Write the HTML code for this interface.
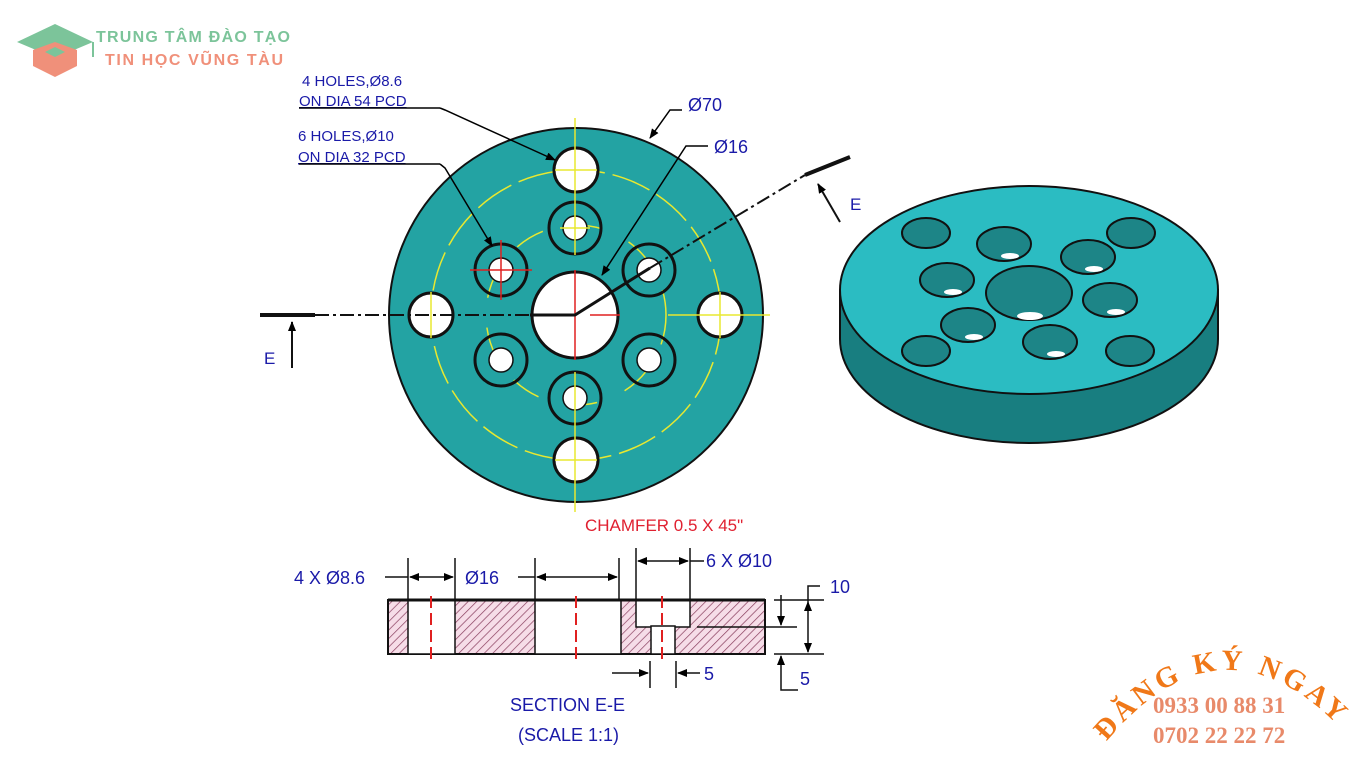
<!DOCTYPE html>
<html><head><meta charset="utf-8"><style>
html,body{margin:0;padding:0;background:#fff}
svg{display:block}
text{font-family:"Liberation Sans",sans-serif}
text.sf,.sf text{font-family:"Liberation Serif",serif}
</style></head><body>
<svg width="1366" height="768" viewBox="0 0 1366 768" xmlns="http://www.w3.org/2000/svg">
<defs>
<pattern id="h" width="6" height="6" patternUnits="userSpaceOnUse" patternTransform="rotate(45)">
<rect width="6" height="6" fill="#f6dde8"/><line x1="0" y1="0" x2="0" y2="6" stroke="#8a4060" stroke-width="1.4"/>
</pattern>
<marker id="a" markerWidth="10" markerHeight="8" refX="9" refY="4" orient="auto" markerUnits="userSpaceOnUse"><path d="M0,0 L10,4 L0,8z" fill="#000"/></marker>
</defs>
<rect width="1366" height="768" fill="#fff"/>

<!-- logo -->
<path d="M17,42 L55,24 L93,42 L55,58z" fill="#7cc49a"/>
<path d="M33,50 L55,42 L77,50 L77,66 L55,77 L33,66z" fill="#f0907a"/>
<path d="M45,52 L55,47 L65,52 L55,57z" fill="#7cc49a"/>
<line x1="93" y1="42" x2="93" y2="57" stroke="#7cc49a" stroke-width="2"/>
<text x="96" y="42" font-size="16" font-weight="bold" fill="#7cc49a" textLength="194">TRUNG TÂM ĐÀO TẠO</text>
<text x="105" y="65" font-size="16" font-weight="bold" fill="#f0907a" textLength="178">TIN HỌC VŨNG TÀU</text>

<!-- labels top -->
<g fill="#1a1aa8" font-size="15">
<text x="302" y="86">4 HOLES,Ø8.6</text>
<text x="299" y="106" text-decoration="underline">ON DIA 54 PCD</text>
<text x="298" y="141">6 HOLES,Ø10</text>
<text x="298" y="162" text-decoration="underline">ON DIA 32 PCD</text>
<text x="688" y="111" font-size="18">Ø70</text>
<text x="714" y="153" font-size="18">Ø16</text>
<text x="850" y="210" font-size="17">E</text>
<text x="264" y="364" font-size="17">E</text>
</g>

<!-- main disc -->
<circle cx="576" cy="315" r="187" fill="#23a3a3" stroke="#111" stroke-width="2"/>
<circle cx="576" cy="315" r="145" fill="none" stroke="#e8e830" stroke-width="1.5" stroke-dasharray="40,8"/>
<circle cx="576" cy="315" r="90" fill="none" stroke="#e8e830" stroke-width="1.5" stroke-dasharray="30,30"/>
<g stroke="#111" stroke-width="3" fill="#fff">
<circle cx="576" cy="170" r="22"/><circle cx="576" cy="460" r="22"/>
<circle cx="431" cy="315" r="22"/><circle cx="720" cy="315" r="22"/>
</g>
<g fill="none" stroke="#111" stroke-width="3">
<circle cx="575" cy="228" r="26"/><circle cx="575" cy="398" r="26"/>
<circle cx="501" cy="270" r="26"/><circle cx="649" cy="270" r="26"/>
<circle cx="501" cy="360" r="26"/><circle cx="649" cy="360" r="26"/>
</g>
<g fill="#fff" stroke="#111" stroke-width="1.5">
<circle cx="575" cy="228" r="12"/><circle cx="575" cy="398" r="12"/>
<circle cx="501" cy="270" r="12"/><circle cx="649" cy="270" r="12"/>
<circle cx="501" cy="360" r="12"/><circle cx="649" cy="360" r="12"/>
</g>
<circle cx="575" cy="315" r="43" fill="#fff" stroke="#111" stroke-width="3"/>
<g stroke="#e8e830" stroke-width="1.5">
<line x1="575" y1="118" x2="575" y2="255"/><line x1="575" y1="372" x2="575" y2="512"/>
<line x1="555" y1="170" x2="597" y2="170"/><line x1="555" y1="460" x2="597" y2="460"/>
<line x1="431" y1="292" x2="431" y2="338"/><line x1="720" y1="292" x2="720" y2="338"/>
<line x1="668" y1="315" x2="770" y2="315"/>
<line x1="560" y1="228" x2="590" y2="228"/>
</g>
<g stroke="#e02020" stroke-width="1.5">
<line x1="575" y1="270" x2="575" y2="360"/><line x1="590" y1="315" x2="620" y2="315"/>
<line x1="470" y1="270" x2="532" y2="270"/><line x1="501" y1="240" x2="501" y2="300"/>
</g>
<!-- leaders -->
<g stroke="#000" stroke-width="1.5" fill="none">
<line x1="299" y1="108" x2="440" y2="108"/>
<polyline points="440,108 445,110 555,160" marker-end="url(#a)"/>
<line x1="299" y1="164" x2="440" y2="164"/>
<polyline points="440,164 445,168 492,246" marker-end="url(#a)"/>
<polyline points="682,110 670,110 650,138" marker-end="url(#a)"/>
<polyline points="708,146 686,146 602,275" marker-end="url(#a)"/>
</g>
<!-- section line -->
<polyline points="260,315 315,315" stroke="#111" stroke-width="4"/>
<line x1="315" y1="315" x2="530" y2="315" stroke="#111" stroke-width="2" stroke-dasharray="14,4,3,4"/>
<polyline points="530,315 575,315 650,268" fill="none" stroke="#111" stroke-width="3"/>
<line x1="650" y1="268" x2="805" y2="175" stroke="#111" stroke-width="2" stroke-dasharray="14,4,3,4"/>
<line x1="805" y1="175" x2="850" y2="157" stroke="#111" stroke-width="4"/>
<line x1="292" y1="368" x2="292" y2="322" stroke="#111" stroke-width="2" marker-end="url(#a)"/>
<line x1="840" y1="222" x2="818" y2="184" stroke="#111" stroke-width="2" marker-end="url(#a)"/>

<!-- iso view -->
<path d="M840,290 L840,339 A189,104 0 0 0 1218,339 L1218,290 Z" fill="#187e80" stroke="#111" stroke-width="2"/>
<ellipse cx="1029" cy="290" rx="189" ry="104" fill="#2bbcc2" stroke="#111" stroke-width="2"/>
<g fill="#1d8587" stroke="#111" stroke-width="2">
<ellipse cx="926" cy="233" rx="24" ry="15"/><ellipse cx="1131" cy="233" rx="24" ry="15"/>
<ellipse cx="926" cy="351" rx="24" ry="15"/><ellipse cx="1130" cy="351" rx="24" ry="15"/>
<ellipse cx="1004" cy="244" rx="27" ry="17"/><ellipse cx="1088" cy="257" rx="27" ry="17"/>
<ellipse cx="947" cy="280" rx="27" ry="17"/><ellipse cx="1110" cy="300" rx="27" ry="17"/>
<ellipse cx="968" cy="325" rx="27" ry="17"/><ellipse cx="1050" cy="342" rx="27" ry="17"/>
<ellipse cx="1029" cy="293" rx="43" ry="27"/>
</g>
<g fill="#fff">
<ellipse cx="1010" cy="256" rx="9" ry="3"/><ellipse cx="1094" cy="269" rx="9" ry="3"/>
<ellipse cx="953" cy="292" rx="9" ry="3"/><ellipse cx="1116" cy="312" rx="9" ry="3"/>
<ellipse cx="974" cy="337" rx="9" ry="3"/><ellipse cx="1056" cy="354" rx="9" ry="3"/>
<ellipse cx="1030" cy="316" rx="13" ry="4"/>
</g>

<!-- section -->
<text x="585" y="531" font-size="17" fill="#e02030">CHAMFER 0.5 X 45"</text>
<rect x="388" y="600" width="377" height="54" fill="url(#h)" stroke="#111" stroke-width="2"/>
<rect x="408" y="600" width="47" height="54" fill="#fff" stroke="#111" stroke-width="1.5"/>
<rect x="535" y="600" width="86" height="54" fill="#fff" stroke="#111" stroke-width="1.5"/>
<rect x="636" y="600" width="54" height="27" fill="#fff" stroke="#111" stroke-width="1.5"/>
<rect x="651" y="626" width="24" height="28" fill="#fff" stroke="#111" stroke-width="1.5"/>
<line x1="388" y1="600" x2="765" y2="600" stroke="#111" stroke-width="3"/>
<line x1="697" y1="627" x2="797" y2="627" stroke="#111" stroke-width="1.5"/>
<g stroke="#e02020" stroke-width="2" stroke-dasharray="12,5">
<line x1="431" y1="596" x2="431" y2="660"/><line x1="576" y1="596" x2="576" y2="660"/><line x1="662" y1="596" x2="662" y2="660"/>
</g>
<g stroke="#111" stroke-width="1.5" fill="none">
<line x1="408" y1="558" x2="408" y2="600"/><line x1="455" y1="558" x2="455" y2="600"/>
<line x1="535" y1="558" x2="535" y2="600"/><line x1="619" y1="558" x2="619" y2="600"/>
<line x1="636" y1="548" x2="636" y2="600"/><line x1="690" y1="548" x2="690" y2="600"/>
<line x1="385" y1="577" x2="408" y2="577"/>
<line x1="432" y1="577" x2="410" y2="577" marker-end="url(#a)"/><line x1="432" y1="577" x2="453" y2="577" marker-end="url(#a)"/>
<line x1="518" y1="577" x2="535" y2="577"/>
<line x1="577" y1="577" x2="537" y2="577" marker-end="url(#a)"/><line x1="577" y1="577" x2="617" y2="577" marker-end="url(#a)"/>
<line x1="663" y1="561" x2="638" y2="561" marker-end="url(#a)"/><line x1="663" y1="561" x2="688" y2="561" marker-end="url(#a)"/>
<line x1="690" y1="561" x2="704" y2="561"/>
<line x1="774" y1="600" x2="824" y2="600"/><line x1="774" y1="654" x2="824" y2="654"/>
<line x1="781" y1="595" x2="781" y2="625" marker-end="url(#a)"/>
<line x1="781" y1="680" x2="781" y2="656" marker-end="url(#a)"/>
<polyline points="781,680 781,690 798,690"/>
<line x1="808" y1="627" x2="808" y2="602" marker-end="url(#a)"/><line x1="808" y1="627" x2="808" y2="652" marker-end="url(#a)"/>
<polyline points="808,602 808,586 820,586"/>
<line x1="650" y1="661" x2="650" y2="688"/><line x1="676" y1="661" x2="676" y2="688"/>
<line x1="612" y1="673" x2="648" y2="673" marker-end="url(#a)"/>
<line x1="700" y1="673" x2="678" y2="673" marker-end="url(#a)"/>
</g>
<g fill="#1a1aa8" font-size="18">
<text x="294" y="584">4 X Ø8.6</text>
<text x="465" y="584">Ø16</text>
<text x="706" y="567">6 X Ø10</text>
<text x="830" y="593">10</text>
<text x="800" y="685">5</text>
<text x="704" y="680">5</text>
<text x="510" y="711">SECTION E-E</text>
<text x="518" y="741">(SCALE 1:1)</text>
</g>

<!-- register -->
<path id="arc" d="M1106,742 Q1225,600 1350,738" fill="none"/>
<text class="sf" font-size="29" font-weight="bold" fill="#f07818"><textPath href="#arc" letter-spacing="4">ĐĂNG KÝ NGAY</textPath></text>
<text class="sf" x="1153" y="713" font-size="23" font-weight="bold" fill="#e88a6a">0933 00 88 31</text>
<text class="sf" x="1153" y="743" font-size="23" font-weight="bold" fill="#e88a6a">0702 22 22 72</text>
</svg>
</body></html>
